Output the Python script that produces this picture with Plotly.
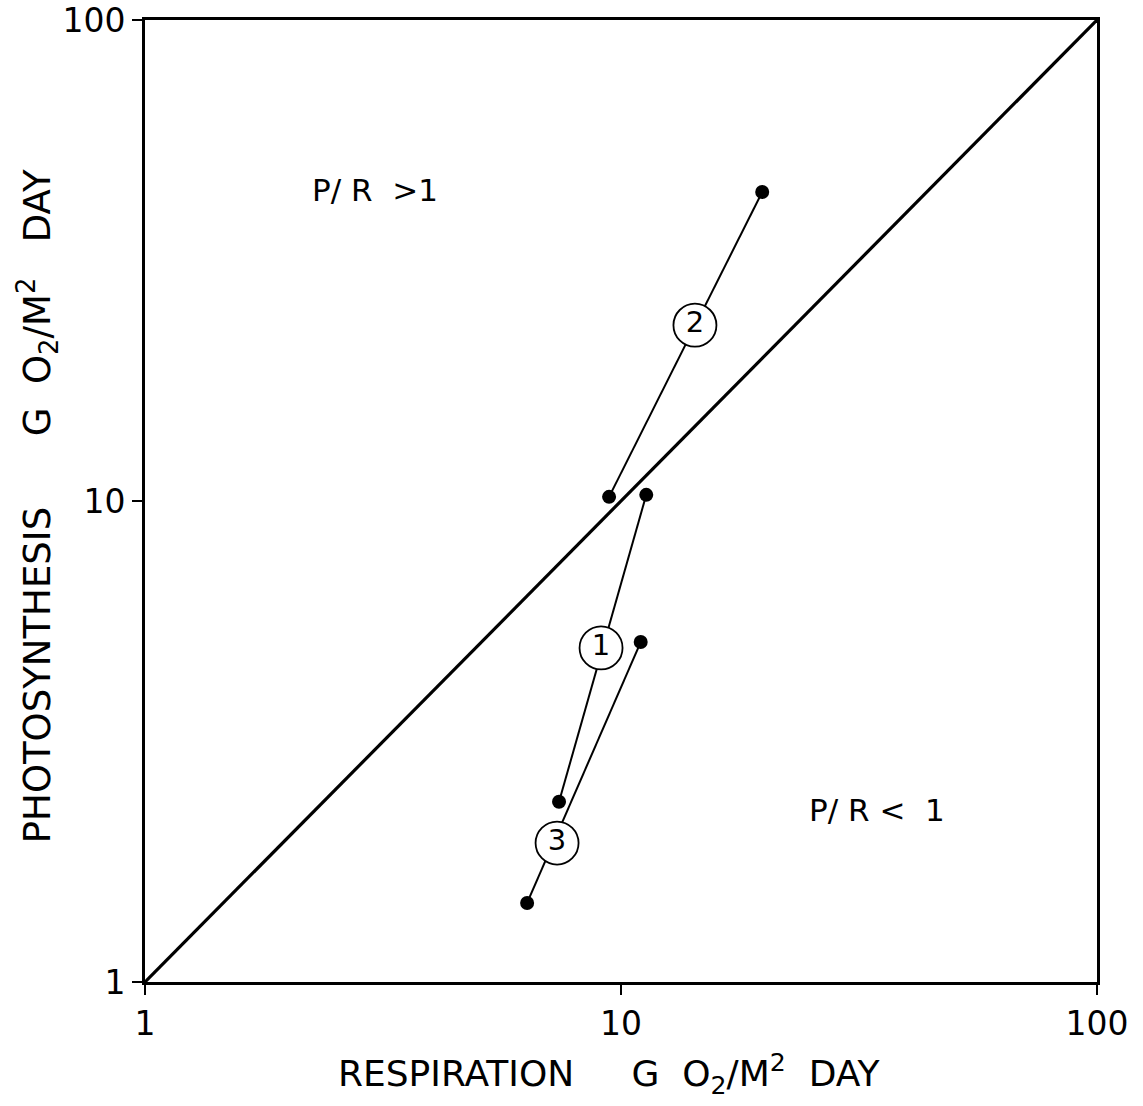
import math
import plotly.graph_objects as go

# Data (log-log axes)
series_names = ["1", "2", "3"]
resp_1 = [7.41, 11.3]
photo_1 = [2.37, 10.3]
resp_2 = [9.44, 19.8]
photo_2 = [10.2, 43.9]
resp_3 = [6.35, 11.0]
photo_3 = [1.46, 5.09]
# positions of circled labels along each line
label_resp = [9.08, 14.3, 7.34]
label_photo = [4.95, 23.2, 1.945]
# 1:1 line
diag_x = [1, 100]
diag_y = [1, 100]
tick_vals = [1, 10, 100]
tick_text = ["1", "10", "100"]
region_text = ["P/ R&nbsp;&nbsp;>1", "P/ R&nbsp;<&nbsp;&nbsp;1"]
region_x = [3.04, 34.5]
region_y = [44.3, 2.28]

FONT = "DejaVu Sans"
fig = go.Figure()

fig.add_trace(go.Scatter(x=diag_x, y=diag_y, mode="lines",
                         line=dict(color="black", width=3.2), showlegend=False))

for rx, py in [(resp_1, photo_1), (resp_2, photo_2), (resp_3, photo_3)]:
    fig.add_trace(go.Scatter(x=rx, y=py, mode="lines+markers",
                             line=dict(color="black", width=2),
                             marker=dict(color="black", size=14),
                             showlegend=False))

fig.add_trace(go.Scatter(x=label_resp, y=label_photo, mode="markers+text",
                         text=series_names, textposition="middle center",
                         textfont=dict(family=FONT, size=29, color="black"),
                         marker=dict(symbol="circle", size=43, color="white",
                                     line=dict(color="black", width=1.8)),
                         showlegend=False))

for t, x, y in zip(region_text, region_x, region_y):
    fig.add_annotation(x=math.log10(x), y=math.log10(y), xref="x", yref="y",
                       text=t, showarrow=False,
                       font=dict(family=FONT, size=31, color="black"))

axis_common = dict(type="log", range=[0, 2], showgrid=False, zeroline=False,
                   showline=True, linecolor="black", linewidth=3, mirror=True,
                   ticks="outside", ticklen=10, tickwidth=2, tickcolor="black",
                   tickvals=tick_vals, ticktext=tick_text, automargin=False,
                   tickfont=dict(family=FONT, size=33, color="black"))

fig.update_xaxes(**axis_common)
fig.update_yaxes(**axis_common)

fig.add_annotation(xref="paper", yref="paper", x=0.488, y=-0.096,
                   xanchor="center", yanchor="middle", showarrow=False,
                   text="RESPIRATION&nbsp;&nbsp;&nbsp;&nbsp;&nbsp;G&nbsp;&nbsp;O<sub>2</sub>/M<sup>2</sup>&nbsp;&nbsp;DAY",
                   font=dict(family=FONT, size=36, color="black"))
fig.add_annotation(xref="paper", yref="paper", x=-0.113, y=0.495,
                   xanchor="center", yanchor="middle", showarrow=False, textangle=-90,
                   text="PHOTOSYNTHESIS&nbsp;&nbsp;&nbsp;&nbsp;&nbsp;&nbsp;G&nbsp;&nbsp;O<sub>2</sub>/M<sup>2</sup>&nbsp;&nbsp;&nbsp;DAY",
                   font=dict(family=FONT, size=37, color="black"))

fig.update_layout(width=1143, height=1106,
                  margin=dict(l=145, r=46, t=20, b=124),
                  paper_bgcolor="white", plot_bgcolor="white")

fig.write_html("out.html")
